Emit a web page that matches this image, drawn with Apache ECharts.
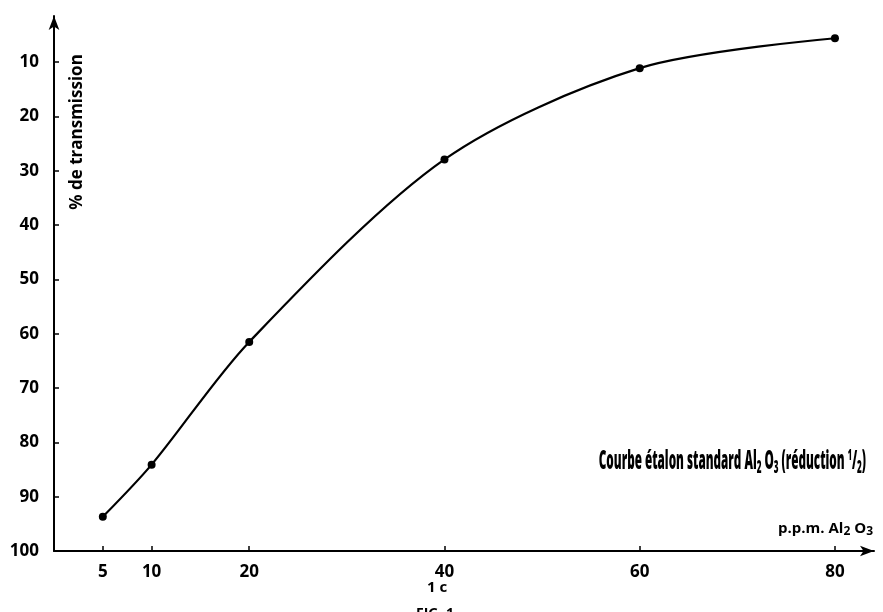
<!DOCTYPE html>
<html>
<head>
<meta charset="utf-8">
<script src="https://cdn.jsdelivr.net/npm/echarts@6/dist/echarts.min.js"></script>
<style>html,body{margin:0;padding:0;background:#fff}#c{width:883px;height:612px}</style>
</head>
<body>
<div id="c"></div>
<script>
// Data
const concentration = [5, 10, 20, 40, 60, 80];            // p.p.m. Al2O3
const transmission = [93.7, 84.1, 61.5, 27.9, 11.1, 5.6];  // % de transmission
const xTickValues = [5, 10, 20, 40, 60, 80];
const yTickValues = [10, 20, 30, 40, 50, 60, 70, 80, 90, 100];

const FONT = "'Open Sans', 'DejaVu Sans', sans-serif";
const chart = echarts.init(document.getElementById('c'), null, {renderer: 'canvas'});

const points = concentration.map((c, i) => [c, transmission[i]]);

chart.setOption({
  backgroundColor: '#fff',
  animation: false,
  grid: {left: 54, right: 9, top: 16, bottom: 61, containLabel: false},
  xAxis: {
    type: 'value', min: 0, max: 84,
    splitLine: {show: false},
    axisLine: {show: true, symbol: ['none', 'arrow'], symbolSize: [8, 14], lineStyle: {color: '#000', width: 2}},
    axisTick: {show: true, inside: true, length: 5, lineStyle: {color: '#000', width: 1.5}, customValues: xTickValues},
    axisLabel: {customValues: xTickValues, color: '#000', fontFamily: FONT, fontWeight: 'bold', fontSize: 17, margin: 13}
  },
  yAxis: {
    type: 'value', min: 1.5, max: 100, inverse: true,
    splitLine: {show: false},
    axisLine: {show: true, symbol: ['none', 'arrow'], symbolSize: [8, 14], lineStyle: {color: '#000', width: 2}},
    axisTick: {show: true, inside: true, length: 5, lineStyle: {color: '#000', width: 1.5}, customValues: yTickValues},
    axisLabel: {customValues: yTickValues, color: '#000', fontFamily: FONT, fontWeight: 'bold', fontSize: 17, margin: 15}
  },
  series: [{
    type: 'line',
    data: points,
    smooth: 0.3,
    symbol: 'circle',
    symbolSize: 8,
    itemStyle: {color: '#000'},
    lineStyle: {color: '#000', width: 2.2}
  }],
  graphic: [
    {
      type: 'text', x: 77, y: 132, rotation: Math.PI / 2,
      style: {text: '% de transmission', font: 'bold 17px ' + FONT, fill: '#000', align: 'center', verticalAlign: 'middle'}
    },
    {
      type: 'text', x: 866, y: 462, scaleX: 0.45,
      style: {
        text: 'Courbe étalon standard Al{s|2} O{s|3} (réduction {p|1}/{s|2})',
        font: '800 26px ' + FONT, fill: '#000', align: 'right', verticalAlign: 'middle',
        rich: {
          s: {font: '800 18px ' + FONT, fill: '#000', verticalAlign: 'bottom', padding: [11, 0, 0, 0]},
          p: {font: '800 16px ' + FONT, fill: '#000', verticalAlign: 'top', padding: [0, 0, 9, 0]}
        }
      }
    },
    {
      type: 'text', x: 873, y: 529,
      style: {
        text: 'p.p.m. Al{s|2} O{s|3}',
        font: 'bold 15px ' + FONT, fill: '#000', align: 'right', verticalAlign: 'middle',
        rich: {s: {font: 'bold 12px ' + FONT, fill: '#000', padding: [5, 0, 0, 0]}}
      }
    },
    {
      type: 'text', x: 437, y: 588,
      style: {text: '1 c', font: 'bold 15px ' + FONT, fill: '#000', align: 'center', verticalAlign: 'middle'}
    },
    {
      type: 'text', x: 435, y: 614,
      style: {text: 'FIG. 1', font: 'bold 14px ' + FONT, fill: '#000', align: 'center', verticalAlign: 'middle'}
    }
  ]
});
</script>
</body>
</html>
